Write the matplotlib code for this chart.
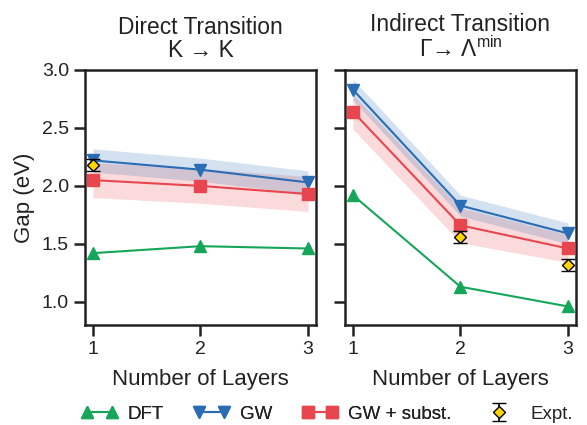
import matplotlib
matplotlib.use('Agg')
import matplotlib.pyplot as plt
from matplotlib.legend_handler import HandlerErrorbar
import numpy as np

plt.rcParams['font.family'] = ['Liberation Sans', 'DejaVu Sans']

layers = [1, 2, 3]

# direct transition K -> K
direct_dft = [1.42, 1.48, 1.46]
direct_gw = [2.22, 2.14, 2.03]
direct_gw_err = [0.10, 0.10, 0.10]
direct_subst = [2.05, 2.00, 1.93]
direct_subst_err = [0.15, 0.15, 0.15]
direct_expt_x = [1]
direct_expt = [2.18]
direct_expt_err = [0.05]

# indirect transition Gamma -> Lambda_min
indirect_dft = [1.92, 1.13, 0.96]
indirect_gw = [2.83, 1.83, 1.59]
indirect_gw_err = [0.09, 0.09, 0.09]
indirect_subst = [2.64, 1.66, 1.46]
indirect_subst_err = [0.15, 0.15, 0.12]
indirect_expt_x = [2, 3]
indirect_expt = [1.56, 1.32]
indirect_expt_err = [0.05, 0.05]

green = '#15a659'
blue = '#2a6db5'
red = '#e8464f'
gold = '#ffd400'
dark = '#222222'

fig = plt.figure(figsize=(5.87, 4.25), dpi=100)
ax1 = fig.add_axes([0.1448, 0.2353, 0.3935, 0.6])
ax2 = fig.add_axes([0.5877, 0.2353, 0.3935, 0.6])


def draw(ax, dft, gw, gw_err, subst, subst_err, ex_x, ex, ex_err):
    x = np.array(layers)
    gw = np.array(gw)
    subst = np.array(subst)
    ax.fill_between(x, subst - np.array(subst_err), subst + np.array(subst_err),
                    color=red, alpha=0.2, lw=0, zorder=1)
    ax.fill_between(x, gw - np.array(gw_err), gw + np.array(gw_err),
                    color=blue, alpha=0.2, lw=0, zorder=1)
    ax.plot(x, dft, color=green, marker='^', ms=9, lw=1.5, label='DFT', zorder=3)
    ax.plot(x, gw, color=blue, marker='v', ms=9, lw=1.5, label='GW', zorder=3)
    ax.plot(x, subst, color=red, marker='s', ms=8, lw=1.5, label='GW + subst.', zorder=3)
    ax.errorbar(ex_x, ex, yerr=ex_err, fmt='D', color='black', mfc=gold, mec='black',
                ms=6, mew=1, capsize=5, elinewidth=1.2, capthick=1.2,
                label='Expt.', zorder=4)
    ax.set_xlim(0.926, 3.074)
    ax.set_ylim(0.8, 3.0)
    ax.set_xticks(layers)
    ax.set_yticks([1.0, 1.5, 2.0, 2.5, 3.0])
    ax.set_xlabel('Number of Layers', fontsize=16, color=dark, labelpad=8)
    for s in ax.spines.values():
        s.set_linewidth(1.8)
        s.set_color(dark)
    ax.tick_params(direction='out', length=8, width=1.8, labelsize=14,
                   color=dark, labelcolor=dark)


draw(ax1, direct_dft, direct_gw, direct_gw_err, direct_subst, direct_subst_err,
     direct_expt_x, direct_expt, direct_expt_err)
draw(ax2, indirect_dft, indirect_gw, indirect_gw_err, indirect_subst, indirect_subst_err,
     indirect_expt_x, indirect_expt, indirect_expt_err)

ax1.set_yticklabels(['1.0', '1.5', '2.0', '2.5', '3.0'])
ax2.set_yticklabels([])
ax1.set_ylabel('Gap (eV)', fontsize=16, color=dark, labelpad=5)
ax1.set_title('Direct Transition\nK \u2192 K', fontsize=16.4, linespacing=1.05,
              pad=9, color=dark)
ax2.set_title('Indirect Transition\n\u0393\u2192 \u039b$^{\\mathregular{min}}$',
              fontsize=16.4, linespacing=1.05, pad=9, color=dark)

handles, labels = ax1.get_legend_handles_labels()
leg1 = fig.legend(handles[:3], labels[:3], loc='center', bbox_to_anchor=(0.454, 0.026),
                  ncol=3, frameon=False, fontsize=13.5, numpoints=2, handlelength=1.9,
                  columnspacing=1.6, handletextpad=0.55, labelcolor=dark)
fig.legend(handles[3:], labels[3:], loc='center', bbox_to_anchor=(0.9, 0.026),
           frameon=False, fontsize=13.5, handlelength=1.6, handletextpad=0.9,
           handler_map={type(handles[3]): HandlerErrorbar(numpoints=1)}, labelcolor=dark)
fig.add_artist(leg1)

fig.savefig('out.png', dpi=100)
